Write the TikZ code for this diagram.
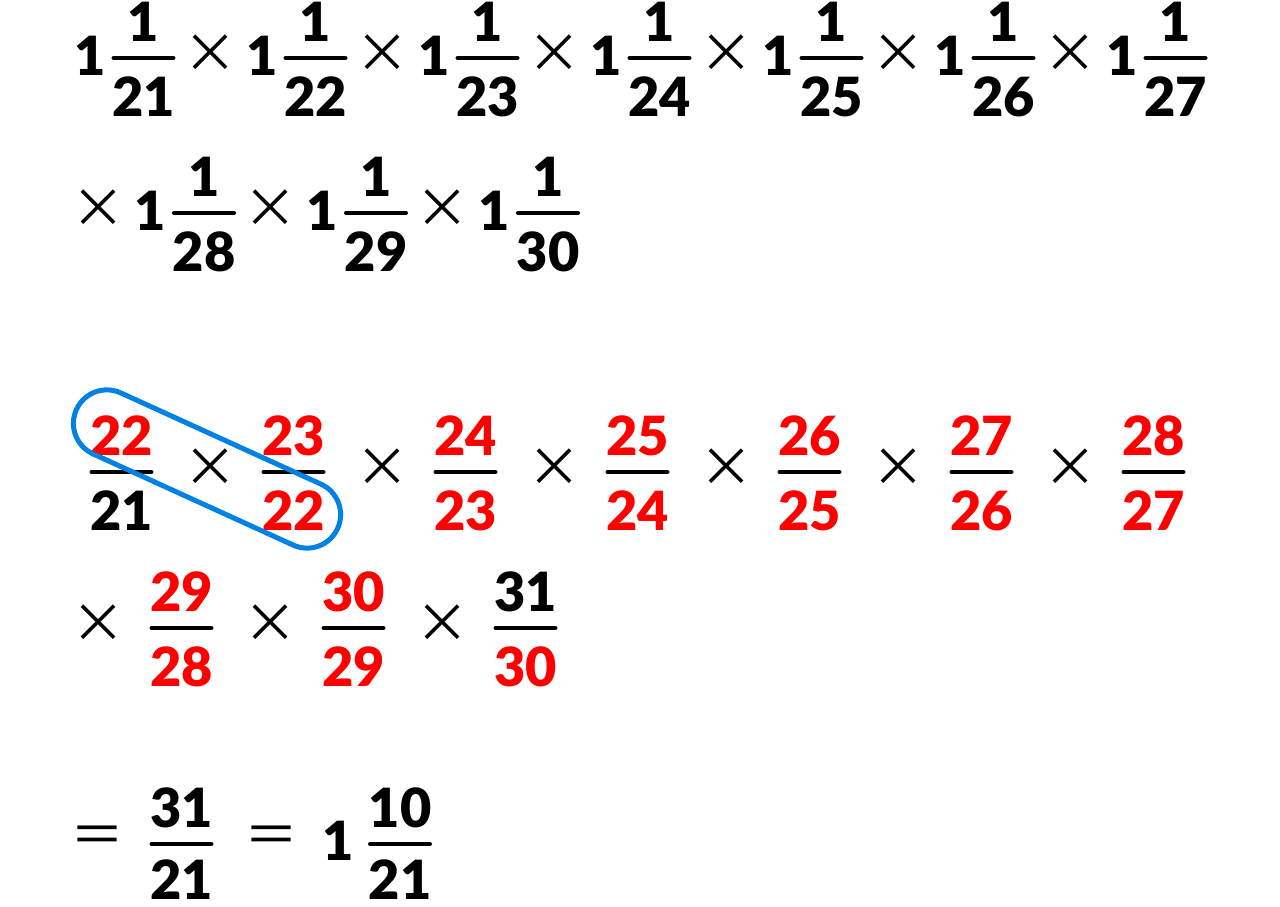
\documentclass[tikz,border=0pt]{standalone}
\usepackage{fontspec}
\IfFontExistsTF{Lato Black}{\newfontfamily\digfont{Lato Black}\def\digweight{}}{\newfontfamily\digfont{Lato}\def\digweight{\bfseries}}
\newfontfamily\symfont{Noto Sans CJK JP}
\definecolor{myred}{RGB}{255,0,0}
\definecolor{myblue}{RGB}{0,130,228}
\tikzset{
  dig/.style={inner sep=0pt, anchor=base, font=\digfont\digweight\fontsize{54}{60}\selectfont},
  sym/.style={inner sep=0pt, anchor=center, font=\symfont\fontsize{54}{60}\selectfont},
  fbar/.style={line width=4pt, line cap=round},
  loopbox/.style={draw=myblue, line width=5pt, rounded corners=33.5pt,
    minimum width=287pt, minimum height=67pt, rotate=-24.5, inner sep=0pt},
}
\newcommand\Frac[8]{%
  \node[dig, text=#5] (#1n) at (#2, #3-17) {#4};
  \draw[fbar] (#2-30, #3) -- (#2+30, #3);
  \node[dig, text=#7] (#1d) at (#2, #3+#8) {#6};
}
\begin{document}
\begin{tikzpicture}[x=1pt, y=-1pt]
\useasboundingbox[fill=white] (0,0) rectangle (1280,906);
% Row 1
\foreach \k [evaluate=\k as \bx using 143.5+172*\k,
             evaluate=\k as \ix using 90+172*\k,
             evaluate=\k as \d using int(21+\k)] in {0,...,6}{
  \node[dig] (ia\k) at (\ix, 75) {1};
  \Frac{a\k}{\bx}{58}{1}{black}{\d}{black}{58}
}
\foreach \k in {0,...,5}{
  \node[sym] (xa\k) at (210+172*\k, 54) {×};
}
% Row 2
\foreach \k [evaluate=\k as \bx using 204+172*\k,
             evaluate=\k as \ix using 150+172*\k,
             evaluate=\k as \tx using 98.5+172*\k,
             evaluate=\k as \d using int(28+\k)] in {0,1,2}{
  \node[sym] (xb\k) at (\tx, 209) {×};
  \node[dig] (ib\k) at (\ix, 230) {1};
  \Frac{b\k}{\bx}{213}{1}{black}{\d}{black}{58}
}
% Row 3
\Frac{c0}{121.5}{472}{22}{myred}{21}{black}{58}
\foreach \k [evaluate=\k as \bx using 121.5+172*\k,
             evaluate=\k as \nn using int(22+\k),
             evaluate=\k as \d using int(21+\k)] in {1,...,6}{
  \Frac{c\k}{\bx}{472}{\nn}{myred}{\d}{myred}{58}
}
\foreach \k in {0,...,5}{
  \node[sym] (xc\k) at (210+172*\k, 468) {×};
}
% Row 4
\foreach \k in {0,1,2}{
  \node[sym] (xd\k) at (98.5+172*\k, 624) {×};
}
\Frac{d0}{181.5}{628}{29}{myred}{28}{myred}{58}
\Frac{d1}{353.5}{628}{30}{myred}{29}{myred}{58}
\Frac{d2}{525.5}{628}{31}{black}{30}{myred}{58}
% Row 5
\node[sym] (eq1) at (97.5, 840) {＝};
\Frac{e0}{181.5}{844}{31}{black}{21}{black}{55}
\node[sym] (eq2) at (271, 840) {＝};
\node[dig] (ie) at (338, 860) {1};
\Frac{e1}{400}{844}{10}{black}{21}{black}{55}
% Blue loop
\node[loopbox] (loop) at (207, 469) {};
\end{tikzpicture}
\end{document}
